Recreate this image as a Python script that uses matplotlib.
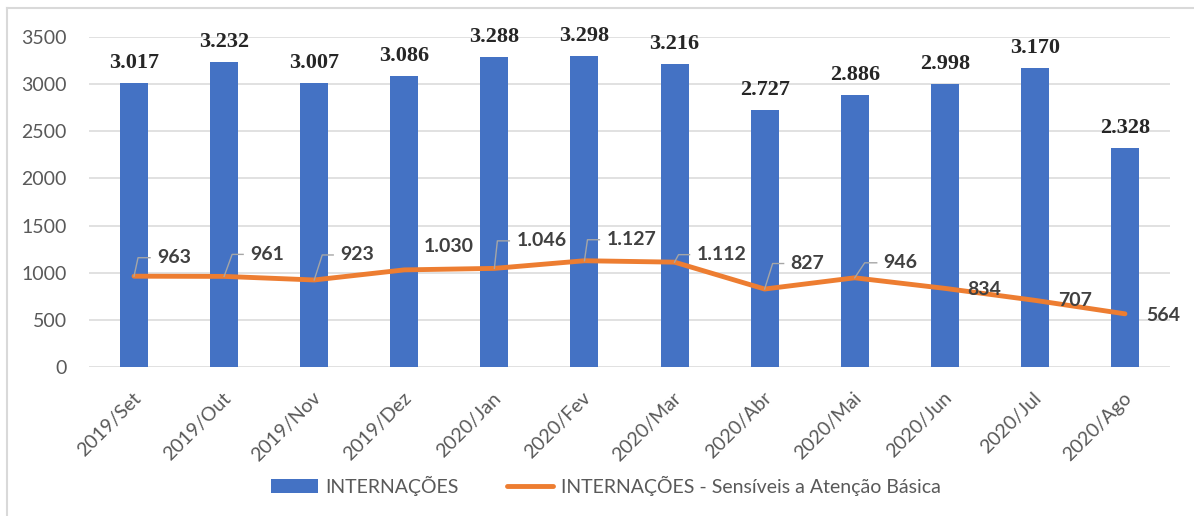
import matplotlib
matplotlib.use("Agg")
import matplotlib.pyplot as plt
from matplotlib.lines import Line2D
from matplotlib.patches import Patch
from matplotlib.transforms import IdentityTransform, ScaledTranslation
import numpy as np

# ---- data ----
categories = ["2019/Set", "2019/Out", "2019/Nov", "2019/Dez", "2020/Jan", "2020/Fev",
              "2020/Mar", "2020/Abr", "2020/Mai", "2020/Jun", "2020/Jul", "2020/Ago"]
internacoes = [3017, 3232, 3007, 3086, 3288, 3298, 3216, 2727, 2886, 2998, 3170, 2328]
sensiveis = [963, 961, 923, 1030, 1046, 1127, 1112, 827, 946, 834, 707, 564]
series_names = ["INTERNAÇÕES", "INTERNAÇÕES - Sensíveis a Atenção Básica"]
y_ticks = [0, 500, 1000, 1500, 2000, 2500, 3000, 3500]

# ---- label placement (pixels) ----
line_label_dx = [23, 26, 26, 19, 22, 22, 22, 26, 29, 22, 23, 21]
line_label_dy = [18.5, 22, 25, 23, 27.5, 21, 7.5, 25.5, 15, -1.5, 0, -2]
leader_knee = [4, 8, 8, None, 3, 3, 4, 8, 10, None, None, None]

BLUE = "#4472C4"
ORANGE = "#ED7D31"
GRID = "#D9D9D9"
TICK = "#595959"
LABEL = "#404040"


def fmt(v):
    return f"{v:,}".replace(",", ".")


W, H, DPI = 1194, 516, 100
fig = plt.figure(figsize=(W / DPI, H / DPI), dpi=DPI)
fig.patch.set_facecolor("white")
ax = fig.add_axes([89 / W, 1 - 367 / H, (1170 - 89) / W, (367 - 37) / H])

x = np.arange(len(categories))
ax.bar(x, internacoes, width=0.31, color=BLUE, zorder=2)
ax.plot(x, sensiveis, color=ORANGE, lw=3.5, solid_capstyle="round",
        solid_joinstyle="round", zorder=3)

ax.set_xlim(-0.5, len(categories) - 0.5)
ax.set_ylim(y_ticks[0], y_ticks[-1])
ax.set_yticks(y_ticks)
ax.grid(axis="y", color=GRID, lw=1.1)
ax.set_axisbelow(True)
for s in ax.spines.values():
    s.set_visible(False)
ax.tick_params(axis="both", length=0, labelsize=14, labelcolor=TICK)
ax.tick_params(axis="y", pad=16)
ax.tick_params(axis="x", pad=16)
ax.set_xticks(x)
ax.set_xticklabels(categories, rotation=45, ha="right", va="top",
                   rotation_mode="anchor", fontfamily="Lato")
for lbl in ax.get_yticklabels():
    lbl.set_fontfamily("Lato")
shift = ScaledTranslation(-2 / DPI, 0, fig.dpi_scale_trans)
for lbl in ax.get_xticklabels():
    lbl.set_transform(lbl.get_transform() + shift)

# bar labels
for i, v in enumerate(internacoes):
    ax.annotate(fmt(v), xy=(i, v), xytext=(0, 15), textcoords="offset pixels",
                ha="center", va="baseline", fontsize=16, fontweight="bold",
                fontfamily="Liberation Serif", color="#262626", zorder=5)

# line labels + leader lines
for i, v in enumerate(sensiveis):
    dx, dy = line_label_dx[i], line_label_dy[i]
    ax.annotate(fmt(v), xy=(i, v), xytext=(dx, dy), textcoords="offset pixels",
                ha="left", va="center", fontsize=14, fontweight="bold",
                fontfamily="Lato", color=LABEL, zorder=5)
    if leader_knee[i] is not None:
        px, py = ax.transData.transform((i, v))
        k = leader_knee[i]
        xs = [px, px + k, px + dx - 7]
        ys = [py, py + dy, py + dy]
        fig.add_artist(Line2D(xs, ys, transform=IdentityTransform(),
                              color="#A6A6A6", lw=1.0, zorder=4))

# legend
handles = [Patch(facecolor=BLUE, edgecolor="none"),
           Line2D([], [], color=ORANGE, lw=3.5, solid_capstyle="round")]
fig.legend(handles, series_names, loc="center", bbox_to_anchor=(606 / W, 1 - 486 / H),
           ncol=2, frameon=False, handlelength=2.4, handletextpad=0.38,
           columnspacing=2.45, prop={"family": "Lato", "size": 14},
           labelcolor=TICK)

# chart border (left & top)
fig.add_artist(Line2D([7 / W, 7 / W], [0, 1 - 8 / H], transform=fig.transFigure,
                      color=GRID, lw=1.5))
fig.add_artist(Line2D([7 / W, 1], [1 - 8 / H, 1 - 8 / H], transform=fig.transFigure,
                      color=GRID, lw=1.5))

fig.savefig("out.png", dpi=DPI)
